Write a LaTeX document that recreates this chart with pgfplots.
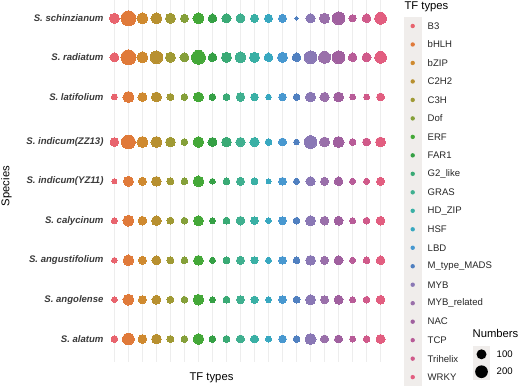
\documentclass[border=0pt]{standalone}
\usepackage{pgfplots}
\pgfplotsset{compat=1.18}
\usepackage{pgfplotstable}
\usepackage{fontspec}
\setmainfont{Liberation Sans}

\definecolor{tf0}{HTML}{E8646E}
\definecolor{tf1}{HTML}{E07A3A}
\definecolor{tf2}{HTML}{CF8A30}
\definecolor{tf3}{HTML}{B89030}
\definecolor{tf4}{HTML}{A09A35}
\definecolor{tf5}{HTML}{85A03A}
\definecolor{tf6}{HTML}{44A838}
\definecolor{tf7}{HTML}{35A045}
\definecolor{tf8}{HTML}{3AAA75}
\definecolor{tf9}{HTML}{40B090}
\definecolor{tf10}{HTML}{3AB0A5}
\definecolor{tf11}{HTML}{38A8C0}
\definecolor{tf12}{HTML}{4898D0}
\definecolor{tf13}{HTML}{5080C0}
\definecolor{tf14}{HTML}{8A78B5}
\definecolor{tf15}{HTML}{9A70AA}
\definecolor{tf16}{HTML}{A0609F}
\definecolor{tf17}{HTML}{B85C98}
\definecolor{tf18}{HTML}{D05A8A}
\definecolor{tf19}{HTML}{E25E80}
\definecolor{labgray}{HTML}{3A3A3A}
\definecolor{keybg}{HTML}{F0EDEB}
\definecolor{gridc}{HTML}{EDEDED}

% y = vertical position of each species row; t0..t19 = numbers per TF type
% t0 B3, t1 bHLH, t2 bZIP, t3 C2H2, t4 C3H, t5 Dof, t6 ERF, t7 FAR1, t8 G2_like, t9 GRAS,
% t10 HD_ZIP, t11 HSF, t12 LBD, t13 M_type_MADS, t14 MYB, t15 MYB_related, t16 NAC, t17 TCP, t18 Trihelix, t19 WRKY
\pgfplotstableread{
y     t0  t1  t2  t3  t4  t5  t6  t7  t8  t9  t10 t11 t12 t13 t14 t15 t16 t17 t18 t19
18.3  100 301 132 132 100 50  132 65  80  73  50  50  50  1   80  109 195 36  65  156
57.3  73  301 132 195 100 73  252 65  100 132 100 65  100 65  195 167 195 65  73  156
97.0  17  132 73  100 31  26  100 26  31  65  44  13  44  26  100 80  100 17  17  50
142.0 65  252 132 132 91  26  122 73  91  80  80  26  50  13  195 100 132 26  50  100
181.3 7   100 50  91  31  26  122 13  26  50  31  7   44  17  80  50  65  17  17  50
220.7 17  132 65  91  31  26  100 17  31  65  44  13  50  26  100 65  73  17  26  65
260.3 13  122 50  73  31  26  91  17  31  50  36  17  44  26  91  50  73  17  26  65
299.7 13  132 50  73  31  26  122 17  31  50  36  17  44  31  100 50  73  17  26  65
339.0 26  156 65  91  31  26  122 26  31  50  50  17  44  26  132 50  50  17  26  73
}\datatable

\begin{document}
\begin{tikzpicture}[x=1bp,y=1bp]
\path[use as bounding box] (0,0) rectangle (520,388);
\begin{axis}[
  at={(106bp,26bp)}, anchor=south west,
  scale only axis, width=283bp, height=362bp,
  xmin=-0.6, xmax=19.6, ymin=0, ymax=362, y dir=reverse,
  axis line style={draw=none},
  xtick={0,...,19}, xticklabels={}, xmajorgrids,
  major grid style={gridc, line width=0.5pt},
  ytick={18.3,57.3,97.0,142.0,181.3,220.7,260.3,299.7,339.0},
  yticklabels={S. schinzianum,S. radiatum,S. latifolium,S. indicum(ZZ13),S. indicum(YZ11),S. calycinum,S. angustifolium,S. angolense,S. alatum},
  yticklabel style={font=\fontsize{9.6}{11}\selectfont\bfseries\itshape, text=labgray, xshift=1bp},
  major tick length=0pt,
  clip=false,
]
\pgfplotsinvokeforeach{0,...,19}{
  \addplot[scatter, only marks, mark=*, line width=0pt,
    scatter/use mapped color={draw=tf#1, fill=tf#1},
    visualization depends on={(1.6+0.34*sqrt(\thisrow{t#1})) \as \msz},
    scatter/@pre marker code/.append style={/tikz/mark size=\msz}]
    table[x expr=#1, y=y] {\datatable};
}
\end{axis}

% axis titles
\node[font=\fontsize{11.3}{13}\selectfont, text=black] at (211.5,10) {TF types};
\node[font=\fontsize{11.3}{13}\selectfont, text=black, rotate=90] at (6.5,202) {Species};

% TF types legend
\node[font=\fontsize{11.3}{13}\selectfont, anchor=west] at (401,381) {TF types};
\foreach \i/\lab in {0/B3,1/bHLH,2/bZIP,3/C2H2,4/C3H,5/Dof,6/ERF,7/FAR1,8/G2\_like,9/GRAS,10/HD\_ZIP,11/HSF,12/LBD,13/M\_type\_MADS,14/MYB,15/MYB\_related,16/NAC,17/TCP,18/Trihelix,19/WRKY}{
  \pgfmathsetmacro{\yy}{388-(26+18.48*\i)}
  \fill[keybg] (404,\yy-9.25) rectangle (421.5,\yy+9.25);
  \fill[tf\i] (412.7,\yy) circle (2.2);
  \node[font=\fontsize{9.6}{11}\selectfont, anchor=west, text=black!85, inner sep=0pt] at (427.5,\yy) {\lab};
}

% Numbers legend
\node[font=\fontsize{11.3}{13}\selectfont, anchor=west, inner sep=0pt] at (472.5,55) {Numbers};
\fill[keybg] (473,25.5) rectangle (490,42.5);
\fill[keybg] (473,8) rectangle (490,25.5);
\fill[black] (481.5,33.7) circle (5.0);
\fill[black] (481.5,16.3) circle (6.35);
\node[font=\fontsize{9.6}{11}\selectfont, anchor=west, inner sep=0pt] at (496.5,33.7) {100};
\node[font=\fontsize{9.6}{11}\selectfont, anchor=west, inner sep=0pt] at (496.5,16.3) {200};
\end{tikzpicture}
\end{document}
